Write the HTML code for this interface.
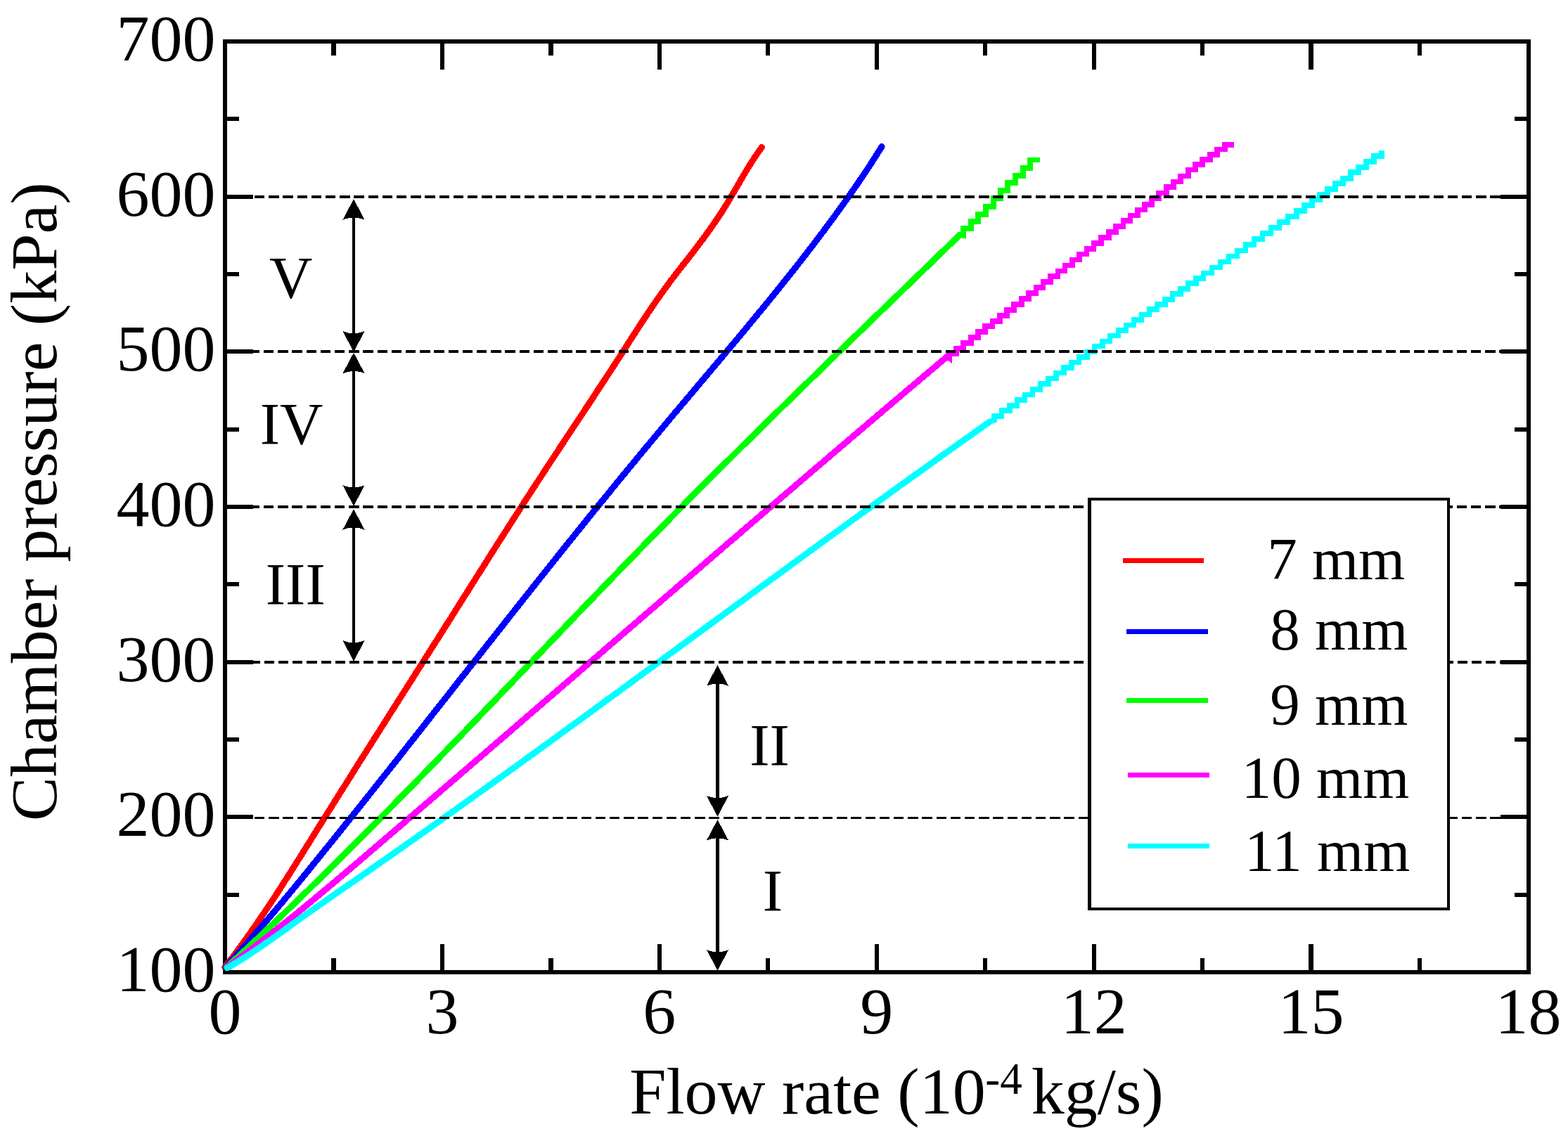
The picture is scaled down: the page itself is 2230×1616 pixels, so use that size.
<!DOCTYPE html>
<html><head><meta charset="utf-8"><title>Chamber pressure vs flow rate</title>
<style>html,body{margin:0;padding:0;background:#fff;width:2230px;height:1616px;overflow:hidden}svg{display:block}</style>
</head><body>
<svg xmlns="http://www.w3.org/2000/svg" width="2230" height="1616" viewBox="0 0 2230 1616">
<rect width="2230" height="1616" fill="#fff"/>
<g id="axes" shape-rendering="crispEdges"><rect x="320" y="59" width="1853.5" height="1324" fill="none" stroke="#000" stroke-width="6"/><path d="M320,1272.7H340M2173.5,1272.7H2153.5" stroke="#000" stroke-width="6"/><path d="M320,1162.3H360M2173.5,1162.3H2133.5" stroke="#000" stroke-width="6"/><path d="M320,1052H340M2173.5,1052H2153.5" stroke="#000" stroke-width="6"/><path d="M320,941.7H360M2173.5,941.7H2133.5" stroke="#000" stroke-width="6"/><path d="M320,831.3H340M2173.5,831.3H2153.5" stroke="#000" stroke-width="6"/><path d="M320,721H360M2173.5,721H2133.5" stroke="#000" stroke-width="6"/><path d="M320,610.7H340M2173.5,610.7H2153.5" stroke="#000" stroke-width="6"/><path d="M320,500.3H360M2173.5,500.3H2133.5" stroke="#000" stroke-width="6"/><path d="M320,390H340M2173.5,390H2153.5" stroke="#000" stroke-width="6"/><path d="M320,279.7H360M2173.5,279.7H2133.5" stroke="#000" stroke-width="6"/><path d="M320,169.3H340M2173.5,169.3H2153.5" stroke="#000" stroke-width="6"/><path d="M474.5,1383V1363M474.5,59V79" stroke="#000" stroke-width="6.3"/><path d="M628.9,1383V1343M628.9,59V99" stroke="#000" stroke-width="6.3"/><path d="M783.4,1383V1363M783.4,59V79" stroke="#000" stroke-width="6.3"/><path d="M937.8,1383V1343M937.8,59V99" stroke="#000" stroke-width="6.3"/><path d="M1092.3,1383V1363M1092.3,59V79" stroke="#000" stroke-width="6.3"/><path d="M1246.8,1383V1343M1246.8,59V99" stroke="#000" stroke-width="6.3"/><path d="M1401.2,1383V1363M1401.2,59V79" stroke="#000" stroke-width="6.3"/><path d="M1555.7,1383V1343M1555.7,59V99" stroke="#000" stroke-width="6.3"/><path d="M1710.1,1383V1363M1710.1,59V79" stroke="#000" stroke-width="6.3"/><path d="M1864.6,1383V1343M1864.6,59V99" stroke="#000" stroke-width="6.3"/><path d="M2019,1383V1363M2019,59V79" stroke="#000" stroke-width="6.3"/></g>
<g id="curves" shape-rendering="crispEdges"><path d="M319.8,1376 L323.7,1371 L327.5,1366 L331.3,1361 L335.1,1356 L338.8,1351 L342.4,1346 L346.1,1341 L349.7,1335.9 L353.3,1330.9 L356.8,1325.9 L360.3,1320.9 L363.8,1315.9 L367.2,1310.9 L370.6,1305.9 L374,1300.9 L377.4,1295.9 L380.8,1290.9 L384.1,1285.9 L387.4,1280.9 L390.7,1275.9 L393.9,1270.9 L397.2,1265.9 L400.4,1260.9 L403.6,1255.8 L406.8,1250.8 L410,1245.8 L413.2,1240.8 L416.3,1235.8 L419.5,1230.8 L422.6,1225.8 L425.8,1220.8 L428.9,1215.8 L432,1210.8 L435.1,1205.8 L438.3,1200.8 L441.4,1195.8 L444.5,1190.8 L447.6,1185.8 L450.7,1180.7 L453.8,1175.7 L457,1170.7 L460.1,1165.7 L463.2,1160.7 L466.3,1155.7 L469.5,1150.7 L472.6,1145.7 L475.7,1140.7 L478.9,1135.7 L482,1130.7 L485.2,1125.7 L488.3,1120.7 L491.5,1115.7 L494.6,1110.7 L497.8,1105.7 L500.9,1100.6 L504.1,1095.6 L507.2,1090.6 L510.4,1085.6 L513.5,1080.6 L516.7,1075.6 L519.9,1070.6 L523,1065.6 L526.2,1060.6 L529.4,1055.6 L532.5,1050.6 L535.7,1045.6 L538.9,1040.6 L542,1035.6 L545.2,1030.6 L548.4,1025.5 L551.6,1020.5 L554.7,1015.5 L557.9,1010.5 L561.1,1005.5 L564.3,1000.5 L567.4,995.5 L570.6,990.5 L573.8,985.5 L577,980.5 L580.1,975.5 L583.3,970.5 L586.5,965.5 L589.7,960.5 L592.8,955.5 L596,950.5 L599.2,945.4 L602.4,940.4 L605.5,935.4 L608.7,930.4 L611.9,925.4 L615,920.4 L618.2,915.4 L621.4,910.4 L624.6,905.4 L627.7,900.4 L630.9,895.4 L634,890.4 L637.2,885.4 L640.4,880.4 L643.5,875.4 L646.7,870.3 L649.8,865.3 L653,860.3 L656.2,855.3 L659.3,850.3 L662.5,845.3 L665.6,840.3 L668.8,835.3 L671.9,830.3 L675.1,825.3 L678.2,820.3 L681.4,815.3 L684.6,810.3 L687.7,805.3 L690.9,800.3 L694,795.3 L697.2,790.2 L700.4,785.2 L703.6,780.2 L706.7,775.2 L709.9,770.2 L713.1,765.2 L716.3,760.2 L719.5,755.2 L722.7,750.2 L725.9,745.2 L729.1,740.2 L732.3,735.2 L735.5,730.2 L738.7,725.2 L741.9,720.2 L745.1,715.2 L748.4,710.1 L751.6,705.1 L754.9,700.1 L758.1,695.1 L761.4,690.1 L764.6,685.1 L767.9,680.1 L771.2,675.1 L774.5,670.1 L777.7,665.1 L781,660.1 L784.3,655.1 L787.6,650.1 L790.9,645.1 L794.2,640.1 L797.5,635 L800.8,630 L804.1,625 L807.4,620 L810.7,615 L814,610 L817.3,605 L820.7,600 L824,595 L827.3,590 L830.6,585 L833.9,580 L837.2,575 L840.5,570 L843.8,565 L847.1,560 L850.3,554.9 L853.6,549.9 L856.9,544.9 L860.2,539.9 L863.5,534.9 L866.7,529.9 L870,524.9 L873.2,519.9 L876.5,514.9 L879.7,509.9 L883,504.9 L886.2,499.9 L889.4,494.9 L892.6,489.9 L895.8,484.9 L899,479.8 L902.3,474.8 L905.5,469.8 L908.7,464.8 L912,459.8 L915.3,454.8 L918.6,449.8 L921.9,444.8 L925.3,439.8 L928.7,434.8 L932.1,429.8 L935.6,424.8 L939.1,419.8 L942.7,414.8 L946.3,409.8 L950,404.8 L953.7,399.7 L957.5,394.7 L961.3,389.7 L965.2,384.7 L969.1,379.7 L973.1,374.7 L977,369.7 L980.9,364.7 L984.8,359.7 L988.6,354.7 L992.5,349.7 L996.2,344.7 L1000,339.7 L1003.6,334.7 L1007.2,329.7 L1010.8,324.6 L1014.3,319.6 L1017.8,314.6 L1021.1,309.6 L1024.5,304.6 L1027.7,299.6 L1030.9,294.6 L1033.9,289.6 L1037,284.6 L1039.9,279.6 L1042.9,274.6 L1045.8,269.6 L1048.7,264.6 L1051.6,259.6 L1054.5,254.6 L1057.4,249.6 L1060.4,244.5 L1063.4,239.5 L1066.5,234.5 L1069.7,229.5 L1072.9,224.5 L1076.3,219.5 L1079.8,214.5 L1083.4,209.5" stroke="#f00" stroke-width="9" fill="none" stroke-linejoin="round" stroke-linecap="round"/><path d="M321,1376 L325.5,1371 L330,1366 L334.5,1361 L339,1356 L343.4,1350.9 L347.9,1345.9 L352.3,1340.9 L356.6,1335.9 L361,1330.9 L365.3,1325.9 L369.7,1320.9 L374,1315.9 L378.2,1310.9 L382.5,1305.8 L386.7,1300.8 L391,1295.8 L395.2,1290.8 L399.4,1285.8 L403.6,1280.8 L407.7,1275.8 L411.9,1270.8 L416,1265.8 L420.2,1260.8 L424.3,1255.7 L428.4,1250.7 L432.5,1245.7 L436.6,1240.7 L440.7,1235.7 L444.7,1230.7 L448.8,1225.7 L452.9,1220.7 L456.9,1215.7 L461,1210.6 L465,1205.6 L469,1200.6 L473.1,1195.6 L477.1,1190.6 L481.1,1185.6 L485.1,1180.6 L489.2,1175.6 L493.2,1170.6 L497.2,1165.5 L501.2,1160.5 L505.2,1155.5 L509.2,1150.5 L513.2,1145.5 L517.2,1140.5 L521.2,1135.5 L525.1,1130.5 L529.1,1125.5 L533.1,1120.5 L537.1,1115.4 L541.1,1110.4 L545,1105.4 L549,1100.4 L553,1095.4 L556.9,1090.4 L560.9,1085.4 L564.9,1080.4 L568.8,1075.4 L572.8,1070.3 L576.7,1065.3 L580.7,1060.3 L584.6,1055.3 L588.6,1050.3 L592.5,1045.3 L596.5,1040.3 L600.4,1035.3 L604.4,1030.3 L608.3,1025.2 L612.2,1020.2 L616.2,1015.2 L620.1,1010.2 L624.1,1005.2 L628,1000.2 L632,995.2 L635.9,990.2 L639.8,985.2 L643.8,980.2 L647.7,975.1 L651.6,970.1 L655.6,965.1 L659.5,960.1 L663.5,955.1 L667.4,950.1 L671.3,945.1 L675.3,940.1 L679.2,935.1 L683.2,930 L687.1,925 L691.1,920 L695,915 L699,910 L702.9,905 L706.9,900 L710.8,895 L714.8,890 L718.7,884.9 L722.7,879.9 L726.6,874.9 L730.6,869.9 L734.5,864.9 L738.5,859.9 L742.5,854.9 L746.4,849.9 L750.4,844.9 L754.4,839.9 L758.4,834.8 L762.3,829.8 L766.3,824.8 L770.3,819.8 L774.3,814.8 L778.3,809.8 L782.3,804.8 L786.3,799.8 L790.3,794.8 L794.3,789.7 L798.3,784.7 L802.3,779.7 L806.3,774.7 L810.3,769.7 L814.4,764.7 L818.4,759.7 L822.4,754.7 L826.5,749.7 L830.5,744.6 L834.5,739.6 L838.6,734.6 L842.6,729.6 L846.7,724.6 L850.8,719.6 L854.8,714.6 L858.9,709.6 L863,704.6 L867.1,699.6 L871.1,694.5 L875.2,689.5 L879.3,684.5 L883.4,679.5 L887.5,674.5 L891.7,669.5 L895.8,664.5 L899.9,659.5 L904,654.5 L908.2,649.4 L912.3,644.4 L916.5,639.4 L920.6,634.4 L924.8,629.4 L929,624.4 L933.2,619.4 L937.3,614.4 L941.5,609.4 L945.7,604.3 L949.9,599.3 L954.1,594.3 L958.3,589.3 L962.6,584.3 L966.8,579.3 L971,574.3 L975.2,569.3 L979.4,564.3 L983.7,559.3 L987.9,554.2 L992.1,549.2 L996.4,544.2 L1000.6,539.2 L1004.8,534.2 L1009,529.2 L1013.2,524.2 L1017.5,519.2 L1021.7,514.2 L1025.9,509.1 L1030.1,504.1 L1034.3,499.1 L1038.5,494.1 L1042.7,489.1 L1046.9,484.1 L1051.1,479.1 L1055.3,474.1 L1059.4,469.1 L1063.6,464 L1067.7,459 L1071.9,454 L1076,449 L1080.1,444 L1084.3,439 L1088.4,434 L1092.5,429 L1096.5,424 L1100.6,419 L1104.7,413.9 L1108.7,408.9 L1112.7,403.9 L1116.7,398.9 L1120.7,393.9 L1124.7,388.9 L1128.7,383.9 L1132.7,378.9 L1136.6,373.9 L1140.5,368.8 L1144.4,363.8 L1148.3,358.8 L1152.2,353.8 L1156,348.8 L1159.8,343.8 L1163.6,338.8 L1167.4,333.8 L1171.2,328.8 L1174.9,323.7 L1178.7,318.7 L1182.4,313.7 L1186.1,308.7 L1189.7,303.7 L1193.3,298.7 L1196.9,293.7 L1200.5,288.7 L1204.1,283.7 L1207.6,278.7 L1211.1,273.6 L1214.6,268.6 L1218.1,263.6 L1221.5,258.6 L1224.9,253.6 L1228.2,248.6 L1231.6,243.6 L1234.9,238.6 L1238.2,233.6 L1241.4,228.5 L1244.6,223.5 L1247.8,218.5 L1251,213.5 L1254.1,208.5" stroke="#00f" stroke-width="9" fill="none" stroke-linejoin="round" stroke-linecap="round"/><path d="M322.2,1376 L327.7,1371 L333.2,1366 L338.6,1361 L344,1356 L349.4,1351 L354.8,1345.9 L360.2,1340.9 L365.5,1335.9 L370.8,1330.9 L376.1,1325.9 L381.4,1320.9 L386.7,1315.9 L392,1310.9 L397.2,1305.9 L402.5,1300.9 L407.7,1295.8 L412.9,1290.8 L418.1,1285.8 L423.2,1280.8 L428.4,1275.8 L433.5,1270.8 L438.7,1265.8 L443.8,1260.8 L448.9,1255.8 L454,1250.8 L459.1,1245.8 L464.2,1240.7 L469.2,1235.7 L474.3,1230.7 L479.3,1225.7 L484.4,1220.7 L489.4,1215.7 L494.4,1210.7 L499.4,1205.7 L504.4,1200.7 L509.4,1195.7 L514.4,1190.6 L519.3,1185.6 L524.3,1180.6 L529.3,1175.6 L534.2,1170.6 L539.2,1165.6 L544.1,1160.6 L549,1155.6 L554,1150.6 L558.9,1145.6 L563.8,1140.5 L568.7,1135.5 L573.6,1130.5 L578.5,1125.5 L583.4,1120.5 L588.3,1115.5 L593.2,1110.5 L598,1105.5 L602.9,1100.5 L607.8,1095.5 L612.7,1090.5 L617.5,1085.4 L622.4,1080.4 L627.2,1075.4 L632.1,1070.4 L636.9,1065.4 L641.8,1060.4 L646.6,1055.4 L651.4,1050.4 L656.3,1045.4 L661.1,1040.4 L665.9,1035.3 L670.8,1030.3 L675.6,1025.3 L680.4,1020.3 L685.2,1015.3 L690,1010.3 L694.8,1005.3 L699.6,1000.3 L704.4,995.3 L709.3,990.3 L714.1,985.2 L718.9,980.2 L723.7,975.2 L728.5,970.2 L733.3,965.2 L738.1,960.2 L742.9,955.2 L747.6,950.2 L752.4,945.2 L757.2,940.2 L762,935.2 L766.8,930.1 L771.6,925.1 L776.4,920.1 L781.2,915.1 L786,910.1 L790.8,905.1 L795.6,900.1 L800.4,895.1 L805.2,890.1 L810,885.1 L814.8,880 L819.6,875 L824.5,870 L829.3,865 L834.1,860 L838.9,855 L843.7,850 L848.6,845 L853.4,840 L858.2,835 L863,830 L867.9,824.9 L872.7,819.9 L877.6,814.9 L882.4,809.9 L887.3,804.9 L892.1,799.9 L897,794.9 L901.9,789.9 L906.8,784.9 L911.6,779.9 L916.5,774.8 L921.4,769.8 L926.3,764.8 L931.2,759.8 L936.1,754.8 L941,749.8 L946,744.8 L950.9,739.8 L955.8,734.8 L960.8,729.8 L965.7,724.8 L970.7,719.7 L975.6,714.7 L980.6,709.7 L985.6,704.7 L990.6,699.7 L995.6,694.7 L1000.6,689.7 L1005.6,684.7 L1010.6,679.7 L1015.6,674.7 L1020.6,669.6 L1025.7,664.6 L1030.7,659.6 L1035.8,654.6 L1040.8,649.6 L1045.9,644.6 L1050.9,639.6 L1056,634.6 L1061.1,629.6 L1066.1,624.6 L1071.2,619.5 L1076.3,614.5 L1081.4,609.5 L1086.5,604.5 L1091.6,599.5 L1096.7,594.5 L1101.8,589.5 L1106.9,584.5 L1112,579.5 L1117.2,574.5 L1122.3,569.5 L1127.4,564.4 L1132.5,559.4 L1137.7,554.4 L1142.8,549.4 L1148,544.4 L1153.1,539.4 L1158.3,534.4 L1163.4,529.4 L1168.6,524.4 L1173.7,519.4 L1178.9,514.3 L1184,509.3 L1189.2,504.3 L1194.4,499.3 L1199.5,494.3 L1204.7,489.3 L1209.9,484.3 L1215,479.3 L1220.2,474.3 L1225.4,469.3 L1230.6,464.2 L1235.7,459.2 L1240.9,454.2 L1246.1,449.2 L1251.3,444.2 L1256.5,439.2 L1261.6,434.2 L1266.8,429.2 L1272,424.2 L1277.2,419.2 L1282.4,414.2 L1287.5,409.1 L1292.7,404.1 L1297.9,399.1 L1303.1,394.1 L1308.3,389.1 L1313.4,384.1 L1318.6,379.1 L1323.8,374.1 L1329,369.1 L1334.1,364.1 L1339.3,359 L1344.5,354 L1349.6,349 L1354.8,344 L1360,339 L1365.1,334" stroke="#0f0" stroke-width="9" fill="none" stroke-linejoin="round" stroke-linecap="round"/><path d="M1365.1,334.0L1369.8,335V325.1H1381V314.9H1391V304.9H1401.8V294.1H1413V282.1H1423V271.1H1433V260.2H1444.2V250.2H1455.2V239.2H1465V227.5H1475.4" stroke="#0f0" stroke-width="7.5" fill="none" stroke-linejoin="miter" stroke-linecap="square"/><path d="M323,1376 L329.9,1371 L336.6,1366 L343.4,1360.9 L350,1355.9 L356.6,1350.9 L363.2,1345.9 L369.7,1340.8 L376.2,1335.8 L382.6,1330.8 L389,1325.8 L395.3,1320.7 L401.7,1315.7 L407.9,1310.7 L414.2,1305.7 L420.4,1300.7 L426.5,1295.6 L432.7,1290.6 L438.8,1285.6 L444.9,1280.6 L450.9,1275.5 L456.9,1270.5 L462.9,1265.5 L468.9,1260.5 L474.9,1255.4 L480.8,1250.4 L486.8,1245.4 L492.7,1240.4 L498.6,1235.4 L504.5,1230.3 L510.4,1225.3 L516.2,1220.3 L522.1,1215.3 L528,1210.2 L533.8,1205.2 L539.7,1200.2 L545.5,1195.2 L551.4,1190.1 L557.3,1185.1 L563.1,1180.1 L569,1175.1 L574.8,1170.1 L580.6,1165 L586.5,1160 L592.3,1155 L598.2,1150 L604,1144.9 L609.9,1139.9 L615.7,1134.9 L621.5,1129.9 L627.4,1124.8 L633.2,1119.8 L639,1114.8 L644.9,1109.8 L650.7,1104.8 L656.5,1099.7 L662.4,1094.7 L668.2,1089.7 L674,1084.7 L679.9,1079.6 L685.7,1074.6 L691.5,1069.6 L697.3,1064.6 L703.2,1059.5 L709,1054.5 L714.8,1049.5 L720.6,1044.5 L726.5,1039.5 L732.3,1034.4 L738.1,1029.4 L743.9,1024.4 L749.7,1019.4 L755.6,1014.3 L761.4,1009.3 L767.2,1004.3 L773,999.3 L778.8,994.2 L784.7,989.2 L790.5,984.2 L796.3,979.2 L802.1,974.2 L807.9,969.1 L813.8,964.1 L819.6,959.1 L825.4,954.1 L831.2,949 L837,944 L842.8,939 L848.7,934 L854.5,928.9 L860.3,923.9 L866.1,918.9 L871.9,913.9 L877.8,908.8 L883.6,903.8 L889.4,898.8 L895.2,893.8 L901,888.8 L906.9,883.7 L912.7,878.7 L918.5,873.7 L924.3,868.7 L930.2,863.6 L936,858.6 L941.8,853.6 L947.6,848.6 L953.5,843.5 L959.3,838.5 L965.1,833.5 L970.9,828.5 L976.8,823.5 L982.6,818.4 L988.4,813.4 L994.3,808.4 L1000.1,803.4 L1005.9,798.3 L1011.8,793.3 L1017.6,788.3 L1023.4,783.3 L1029.3,778.2 L1035.1,773.2 L1041,768.2 L1046.8,763.2 L1052.7,758.2 L1058.5,753.1 L1064.3,748.1 L1070.2,743.1 L1076,738.1 L1081.9,733 L1087.8,728 L1093.6,723 L1099.5,718 L1105.3,712.9 L1111.2,707.9 L1117,702.9 L1122.9,697.9 L1128.8,692.9 L1134.6,687.8 L1140.5,682.8 L1146.4,677.8 L1152.2,672.8 L1158.1,667.7 L1164,662.7 L1169.9,657.7 L1175.8,652.7 L1181.6,647.6 L1187.5,642.6 L1193.4,637.6 L1199.3,632.6 L1205.2,627.6 L1211.1,622.5 L1217,617.5 L1222.9,612.5 L1228.8,607.5 L1234.7,602.4 L1240.6,597.4 L1246.5,592.4 L1252.4,587.4 L1258.3,582.3 L1264.2,577.3 L1270.1,572.3 L1276.1,567.3 L1282,562.3 L1287.9,557.2 L1293.8,552.2 L1299.8,547.2 L1305.7,542.2 L1311.6,537.1 L1317.6,532.1 L1323.5,527.1 L1329.5,522.1 L1335.4,517 L1341.4,512 L1347.3,507" stroke="#f0f" stroke-width="9" fill="none" stroke-linejoin="round" stroke-linecap="round"/><path d="M1347.3,507.0L1349.8,509V503.1H1359.8V495.9H1370V487.8H1380.8V479.9H1390.8V471.9H1400.8V463.9H1411.7V456.9H1421.8V448.9H1431.8V440.8H1441.8V432.9H1452.8V424.9H1463.1V417H1473.4V409.1H1483.7V401.2H1494V393.2H1504.3V385.4H1514.5V377.4H1524.8V369.6H1535.1V361.6H1545.4V353.8H1555.7V345.9H1566V337.9H1576.8V329.9H1587.1V322.1H1597.3V314.2H1607.6V306.5H1617.8V298.7H1628V290.9H1638.2V282.6H1648V274.4H1658.8V266.1H1668.8V258.4H1679.2V250.6H1690V241.4H1700V234.1H1710V227.2H1720.8V220.2H1731.2V212.3H1742V205.8H1751" stroke="#f0f" stroke-width="7.5" fill="none" stroke-linejoin="miter" stroke-linecap="square"/><path d="M323.2,1377 L331.7,1372 L339.9,1367 L347.9,1362 L355.7,1356.9 L363.3,1351.9 L370.7,1346.9 L377.9,1341.9 L385.1,1336.9 L392.1,1331.9 L399.1,1326.9 L406.1,1321.9 L413.1,1316.8 L420,1311.8 L427,1306.8 L434.1,1301.8 L441.1,1296.8 L448.2,1291.8 L455.4,1286.8 L462.5,1281.8 L469.7,1276.7 L476.9,1271.7 L484.1,1266.7 L491.4,1261.7 L498.6,1256.7 L505.8,1251.7 L513.1,1246.7 L520.3,1241.7 L527.5,1236.6 L534.6,1231.6 L541.8,1226.6 L549,1221.6 L556.1,1216.6 L563.3,1211.6 L570.4,1206.6 L577.5,1201.5 L584.7,1196.5 L591.8,1191.5 L598.9,1186.5 L605.9,1181.5 L613,1176.5 L620.1,1171.5 L627.1,1166.5 L634.2,1161.4 L641.2,1156.4 L648.3,1151.4 L655.3,1146.4 L662.3,1141.4 L669.3,1136.4 L676.3,1131.4 L683.3,1126.4 L690.3,1121.3 L697.3,1116.3 L704.2,1111.3 L711.2,1106.3 L718.2,1101.3 L725.1,1096.3 L732.1,1091.3 L739,1086.3 L745.9,1081.2 L752.8,1076.2 L759.8,1071.2 L766.7,1066.2 L773.6,1061.2 L780.5,1056.2 L787.4,1051.2 L794.3,1046.1 L801.2,1041.1 L808.1,1036.1 L814.9,1031.1 L821.8,1026.1 L828.7,1021.1 L835.6,1016.1 L842.4,1011.1 L849.3,1006 L856.1,1001 L863,996 L869.8,991 L876.7,986 L883.5,981 L890.4,976 L897.2,971 L904,965.9 L910.9,960.9 L917.7,955.9 L924.5,950.9 L931.4,945.9 L938.2,940.9 L945,935.9 L951.8,930.9 L958.7,925.8 L965.5,920.8 L972.3,915.8 L979.1,910.8 L985.9,905.8 L992.8,900.8 L999.6,895.8 L1006.4,890.7 L1013.2,885.7 L1020,880.7 L1026.9,875.7 L1033.7,870.7 L1040.5,865.7 L1047.3,860.7 L1054.2,855.7 L1061,850.6 L1067.8,845.6 L1074.6,840.6 L1081.5,835.6 L1088.3,830.6 L1095.1,825.6 L1102,820.6 L1108.8,815.6 L1115.7,810.5 L1122.5,805.5 L1129.4,800.5 L1136.2,795.5 L1143.1,790.5 L1149.9,785.5 L1156.8,780.5 L1163.6,775.5 L1170.5,770.4 L1177.4,765.4 L1184.3,760.4 L1191.2,755.4 L1198,750.4 L1204.9,745.4 L1211.8,740.4 L1218.7,735.3 L1225.6,730.3 L1232.6,725.3 L1239.5,720.3 L1246.4,715.3 L1253.3,710.3 L1260.3,705.3 L1267.2,700.3 L1274.2,695.2 L1281.1,690.2 L1288.1,685.2 L1295,680.2 L1302,675.2 L1309,670.2 L1316,665.2 L1323,660.2 L1330,655.1 L1337,650.1 L1344,645.1 L1351.1,640.1 L1358.1,635.1 L1365.1,630.1 L1372.2,625.1 L1379.3,620.1 L1386.3,615 L1393.4,610 L1400.5,605 L1407.6,600" stroke="#0ff" stroke-width="9" fill="none" stroke-linejoin="round" stroke-linecap="round"/><path d="M1407.6,600.0L1414,598V592H1424.7V583.8H1435.8V576.8H1446.5V569H1457.6V561.4H1468.7V553.8H1479.7V546.2H1490.8V538.6H1501.8V530.5H1512.8V522.8H1523.8V515.5H1534.7V507.8H1545.8V500.4H1556.7V492.4H1567.8V485.4H1578.7V477.6H1590.7V469.9H1601.7V462.4H1612.7V455H1623.7V447.6H1634.7V440.2H1645.7V432.8H1656.8V425.8H1667.7V417.9H1678.8V410.8H1689.7V402.9H1700.8V395.8H1711.7V388.4H1723.7V380.4H1735.7V372.4H1747.7V364.3H1759.7V356.3H1771.7V348.2H1783.7V340.2H1795.7V332.1H1807.7V324.1H1819.7V316H1831.7V308H1843.8V299.9H1855V292.1H1865.8V283.9H1877V276.9H1888V268.8H1899V260.9H1910V254.1H1920.8V244.9H1932.2V237.9H1943V229.8H1953.8V221.9H1965V217.7H1965.4" stroke="#0ff" stroke-width="7.5" fill="none" stroke-linejoin="miter" stroke-linecap="square"/></g>
<g id="dashes" shape-rendering="crispEdges"><line x1="320.0" y1="279.9" x2="2173.5" y2="279.9" stroke="#000" stroke-width="3.9" stroke-dasharray="14.3 5.9" stroke-dashoffset="18.60"/><line x1="320.0" y1="500.2" x2="2173.5" y2="500.2" stroke="#000" stroke-width="3.9" stroke-dasharray="14.3 5.9" stroke-dashoffset="5.60"/><line x1="320.0" y1="721.0" x2="2173.5" y2="721.0" stroke="#000" stroke-width="3.9" stroke-dasharray="14.3 5.9" stroke-dashoffset="5.60"/><line x1="320.0" y1="941.9" x2="2173.5" y2="941.9" stroke="#000" stroke-width="3.9" stroke-dasharray="14.3 5.9" stroke-dashoffset="4.90"/><line x1="320.0" y1="1163.5" x2="2173.5" y2="1163.5" stroke="#000" stroke-width="3.9" stroke-dasharray="14.3 5.9" stroke-dashoffset="18.60"/></g>
<g id="legend" shape-rendering="crispEdges"><rect x="1549.5" y="710" width="510.2" height="583.3" fill="#fff" stroke="#000" stroke-width="4.3"/><line x1="1600.4" y1="797.5" x2="1708.5" y2="797.5" stroke="#f00" stroke-width="7" stroke-linecap="square"/><text x="1998.2" y="824.4" font-size="85" text-anchor="end">7 mm</text><line x1="1605.5" y1="898.5" x2="1714.5" y2="898.5" stroke="#00f" stroke-width="7" stroke-linecap="square"/><text x="2002.3" y="923.8" font-size="85" text-anchor="end">8 mm</text><line x1="1605.5" y1="996.8" x2="1714.5" y2="996.8" stroke="#0f0" stroke-width="7" stroke-linecap="square"/><text x="2002.3" y="1030.6" font-size="85" text-anchor="end">9 mm</text><line x1="1607.5" y1="1102.6" x2="1716.5" y2="1102.6" stroke="#f0f" stroke-width="7" stroke-linecap="square"/><text x="2004.3" y="1135.4" font-size="85" text-anchor="end">10 mm</text><line x1="1607.5" y1="1203.2" x2="1716.5" y2="1203.2" stroke="#0ff" stroke-width="7" stroke-linecap="square"/><text x="2005.3" y="1238.5" font-size="85" text-anchor="end">11 mm</text></g>
<g id="arrows" fill="#000" shape-rendering="crispEdges"><line x1="503" y1="293.2" x2="503" y2="490.6" stroke="#000" stroke-width="4.5"/><path d="M503,283.2L518.6,312.7Q503,306.3 487.4,312.7Z"/><path d="M503,500.6L518.6,471.1Q503,477.5 487.4,471.1Z"/><line x1="503" y1="511.7" x2="503" y2="709.8" stroke="#000" stroke-width="4.5"/><path d="M503,501.7L518.6,531.2Q503,524.8 487.4,531.2Z"/><path d="M503,719.8L518.6,690.3Q503,696.7 487.4,690.3Z"/><line x1="503" y1="734.1" x2="503" y2="930.6" stroke="#000" stroke-width="4.5"/><path d="M503,724.1L518.6,753.6Q503,747.2 487.4,753.6Z"/><path d="M503,940.6L518.6,911.1Q503,917.5 487.4,911.1Z"/><line x1="1020.5" y1="956.2" x2="1020.5" y2="1151.5" stroke="#000" stroke-width="4.5"/><path d="M1020.5,946.2L1036.1,975.7Q1020.5,969.3 1004.9,975.7Z"/><path d="M1020.5,1161.5L1036.1,1132Q1020.5,1138.4 1004.9,1132Z"/><line x1="1020.5" y1="1176" x2="1020.5" y2="1370.6" stroke="#000" stroke-width="4.5"/><path d="M1020.5,1166L1036.1,1195.5Q1020.5,1189.1 1004.9,1195.5Z"/><path d="M1020.5,1380.6L1036.1,1351.1Q1020.5,1357.5 1004.9,1351.1Z"/></g>
<g id="text" fill="#000" font-family="'Liberation Serif','Times New Roman',serif" style="font-kerning:none"><text x="306.5" y="1409.8" font-size="94" text-anchor="end">100</text><text x="306.5" y="1189.2" font-size="94" text-anchor="end">200</text><text x="306.5" y="968.5" font-size="94" text-anchor="end">300</text><text x="306.5" y="747.9" font-size="94" text-anchor="end">400</text><text x="306.5" y="527.2" font-size="94" text-anchor="end">500</text><text x="306.5" y="306.5" font-size="94" text-anchor="end">600</text><text x="306.5" y="85.8" font-size="94" text-anchor="end">700</text><text x="320" y="1469.8" font-size="94" text-anchor="middle">0</text><text x="628.9" y="1469.8" font-size="94" text-anchor="middle">3</text><text x="937.8" y="1469.8" font-size="94" text-anchor="middle">6</text><text x="1246.8" y="1469.8" font-size="94" text-anchor="middle">9</text><text x="1555.7" y="1469.8" font-size="94" text-anchor="middle">12</text><text x="1864.6" y="1469.8" font-size="94" text-anchor="middle">15</text><text x="2173.5" y="1469.8" font-size="94" text-anchor="middle">18</text><text x="383.0" y="424.2" font-size="85">V</text><text x="369.8" y="632.4" font-size="85">IV</text><text x="377.8" y="860.1" font-size="85">III</text><text x="1066.3" y="1088.5" font-size="85">II</text><text x="1084.7" y="1295.9" font-size="85">I</text><text x="895.2" y="1583.6" font-size="94">Flow rate (10</text><text x="1401.2" y="1555.6" font-size="63">-4</text><text x="1466.7" y="1583.6" font-size="94">kg/s)</text><text transform="translate(80,1167.9) rotate(-90)" font-size="94">Chamber pressure (kPa)</text></g>
</svg>
</body></html>
